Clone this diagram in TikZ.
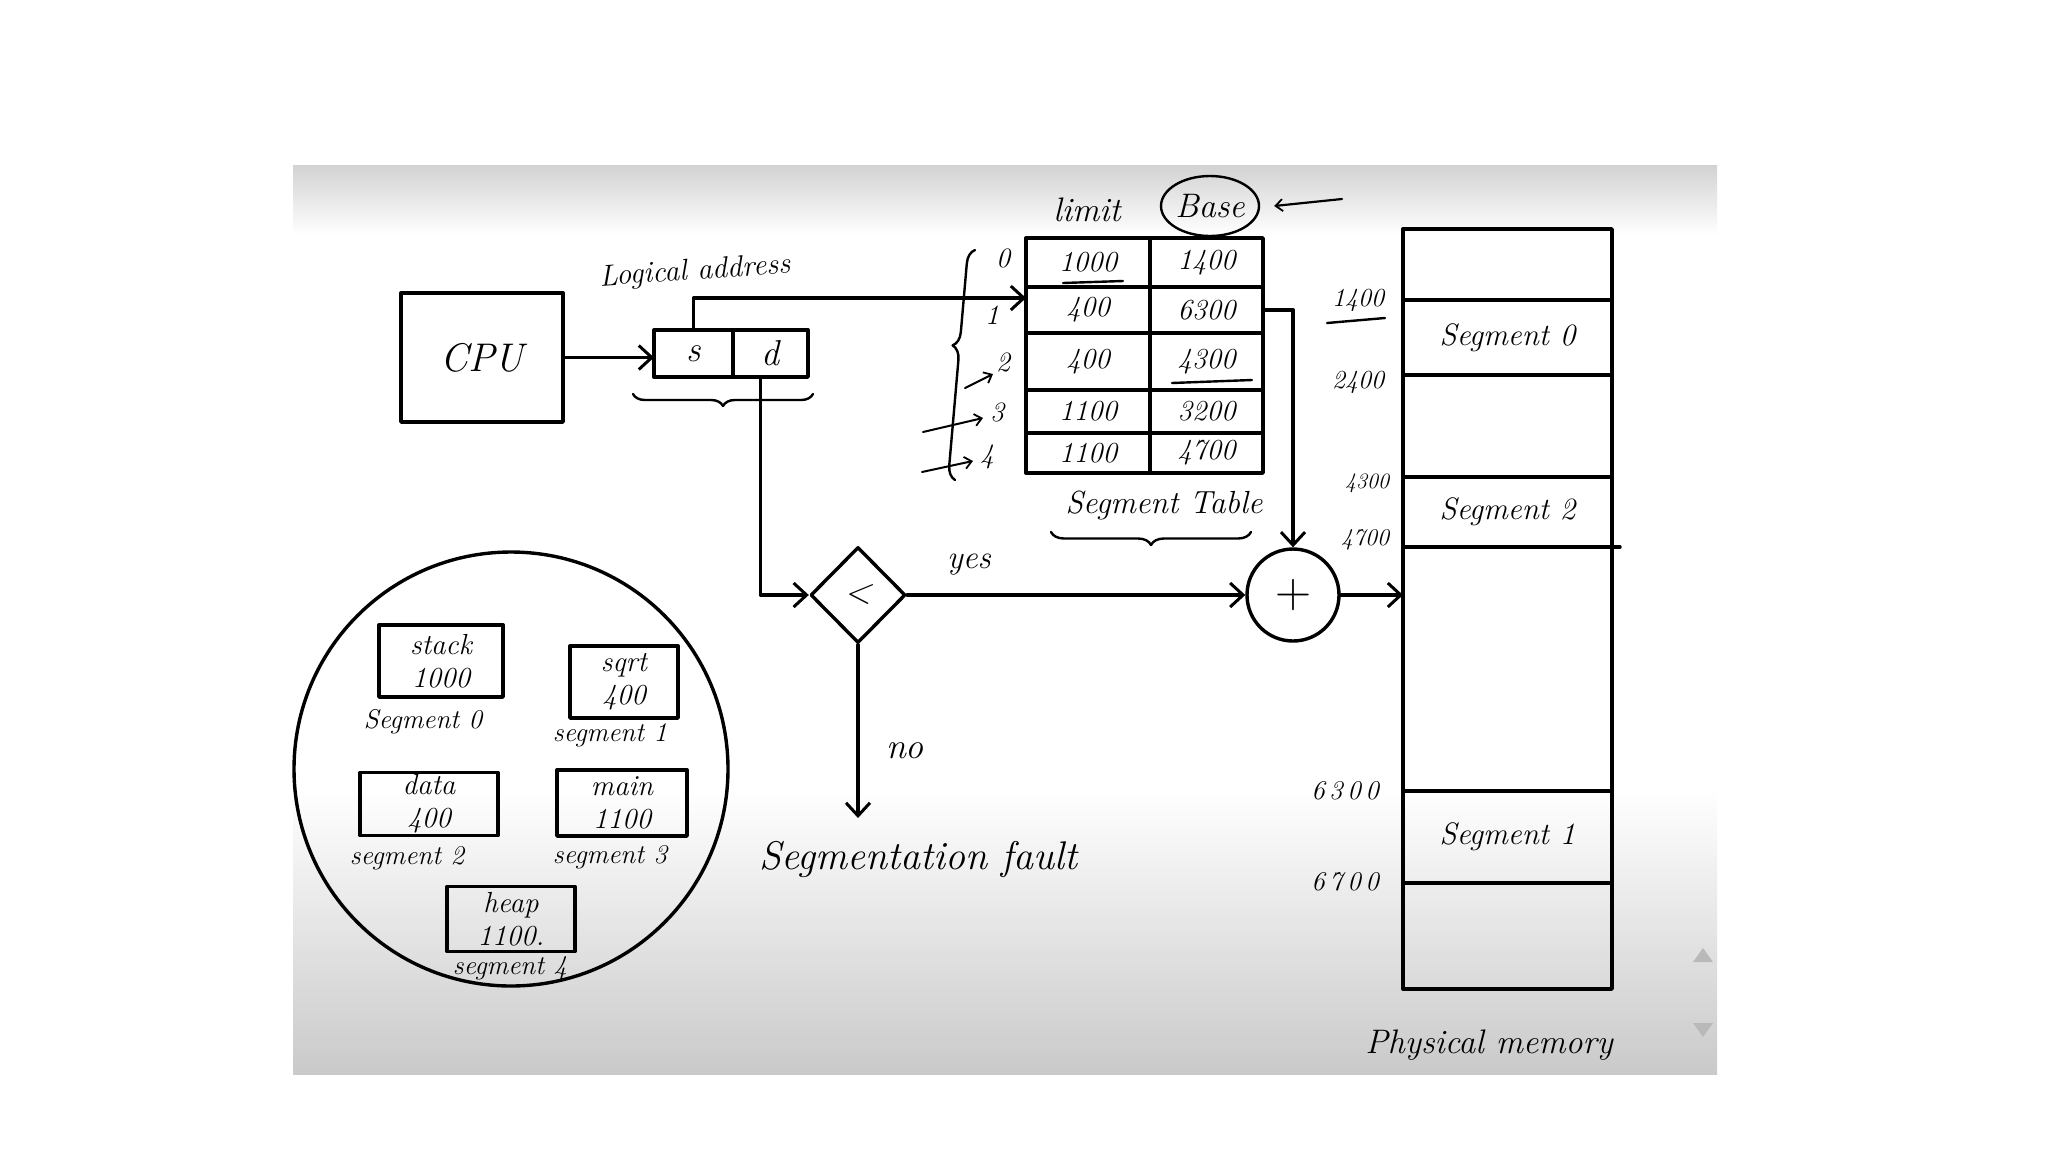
\documentclass[tikz,border=0pt]{standalone}
\usepackage{fontspec}
\usetikzlibrary{arrows.meta,shapes.geometric,decorations.pathreplacing,calc}
\newcommand\hw[1]{\fontsize{#1}{#1}\selectfont\itshape}
\begin{document}
\begin{tikzpicture}[x=1pt,y=-1pt,
  pen/.style={line width=3.4pt, line cap=round, line join=round},
  thinpen/.style={line width=2.4pt, line cap=round, line join=round},
  arr/.style={pen, -{Straight Barb[length=13pt,width=24pt,line width=3pt]}},
  smallarr/.style={line width=2pt, line cap=round, -{Straight Barb[length=7pt,width=12pt,line width=1.8pt]}},
  bx/.style={draw, pen, inner sep=0pt, outer sep=0pt},
  txt/.style={inner sep=0pt, outer sep=0pt},
  celltxt/.style={font=\hw{29}},
  lcell/.style={bx, celltxt, minimum width=124pt},
  rcell/.style={bx, celltxt, minimum width=113pt},
  mem/.style={bx, minimum width=209pt, font=\hw{31}},
  addr/.style={txt, font=\hw{26}},
  idx/.style={txt, font=\hw{28}},
  pbox/.style={bx, align=center, font=\fontsize{29}{33}\selectfont\itshape},
  plbl/.style={txt, font=\hw{27}},
  brc/.style={thinpen, decorate}
]
\useasboundingbox (0,0) rectangle (2048,1152);
% background panel
\fill[white] (0,0) rectangle (2048,1152);
\fill[white] (293,235) rectangle (1717,790);
\shade[top color=gray!35, bottom color=white] (293,165) rectangle (1717,235);
\shade[top color=white, bottom color=gray!42] (293,790) rectangle (1717,1074);
% scroll arrows
\fill[gray!55] (1693,962) -- (1713,962) -- (1703,948) -- cycle;
\fill[gray!55] (1693,1023) -- (1713,1023) -- (1703,1037) -- cycle;

% CPU and logical address
\node[bx, minimum width=162pt, minimum height=129pt, font=\hw{40}] (cpu) at (482,357.5) {CPU};
\node[bx, minimum width=79pt, minimum height=47pt, font=\hw{36}] (s) at (693.5,353.5) {s};
\node[bx, minimum width=75pt, minimum height=47pt, font=\hw{36}] (d) at (770.5,353.5) {d};
\node[txt, font=\hw{30}, rotate=4] (la) at (695,272) {Logical address};
\draw[brc, decoration={brace, mirror, amplitude=12pt}] (633,394) -- (813,394);
\draw[arr] (cpu.east) -- (cpu.east -| s.west);

% segment table
\node[lcell, minimum height=49pt] (l0) at (1088,262.5) {1000};
\node[rcell, minimum height=49pt] (b0) at (1206.5,262.5) {1400};
\node[lcell, minimum height=46pt] (l1) at (1088,310) {400};
\node[rcell, minimum height=46pt] (b1) at (1206.5,310) {6300};
\node[lcell, minimum height=57pt] (l2) at (1088,361.5) {400};
\node[rcell, minimum height=57pt] (b2) at (1206.5,361.5) {4300};
\node[lcell, minimum height=43pt] (l3) at (1088,411.5) {1100};
\node[rcell, minimum height=43pt] (b3) at (1206.5,411.5) {3200};
\node[lcell, minimum height=40pt] (l4) at (1088,453) {1100};
\node[rcell, minimum height=40pt] (b4) at (1206.5,453) {4700};
\draw[thinpen] (1063,283) -- (1123,281);
\draw[thinpen] (1172,383) -- (1252,380);
\node[txt, font=\hw{34}] (lim) at (1087,210) {limit};
\node[ellipse, draw, thinpen, inner sep=0pt, minimum width=98pt, minimum height=60pt, font=\hw{34}] (base) at (1210,206) {Base};
\coordinate (bt) at (1342,199);
\draw[smallarr, line width=2.2pt] (bt) -- ([xshift=14pt]base.east);
\node[txt, font=\hw{32}] (stl) at (1164,505) {Segment Table};
\draw[brc, decoration={brace, mirror, amplitude=13pt}] (1051,532) -- (1251,532);

% indices
\node[idx] (i0) at (1003,258) {0};
\node[idx] (i1) at (992,315) {1};
\node[idx] (i2) at (1003,362) {2};
\node[idx] (i3) at (997,412) {3};
\node[idx] (i4) at (987,457) {4};
\draw[brc, decoration={brace, mirror, amplitude=14pt, aspect=0.42}] (975,250) -- (955,480);
\coordinate (a2) at (965,388);
\coordinate (a3) at (923,432);
\coordinate (a4) at (922,472);
\draw[smallarr] (a2) -- ([xshift=-10pt,yshift=-12pt]i2.center);
\draw[smallarr] (a3) -- ([xshift=-14pt,yshift=-6pt]i3.center);
\draw[smallarr] (a4) -- ([xshift=-14pt,yshift=-4pt]i4.center);

% s -> table
\draw[arr] (s.north) |- ([yshift=12pt]l1.west);

% comparison and adder
\node[diamond, draw, pen, aspect=1, inner sep=0pt, minimum width=95pt, minimum height=96pt, font=\hw{36}] (dia) at (858,595) {<};
\node[circle, draw, pen, inner sep=0pt, minimum size=92pt, font=\fontsize{50}{50}\selectfont] (plus) at (1293,595) {+};
\draw[arr] ([xshift=-10pt]d.south) |- (dia.west);
\draw[arr] (dia.east) -- (plus.west);
\node[txt, font=\hw{33}] (yes) at (969,565) {yes};
\draw[arr] (b1.east) -| (plus.north);
\coordinate (nf) at (858,818);
\draw[arr] (dia.south) -- (nf);
\node[txt, font=\hw{36}] (no) at (905,751) {no};
\node[txt, font=\hw{40}] (sf) at (918,859) {Segmentation fault};

% physical memory
\node[mem, minimum height=71pt] (m0) at (1507.5,264.5) {};
\node[mem, minimum height=75pt] (m1) at (1507.5,337.5) {Segment 0};
\node[mem, minimum height=102pt] (m2) at (1507.5,426) {};
\node[mem, minimum height=70pt] (m3) at (1507.5,512) {Segment 2};
\node[mem, minimum height=244pt] (m4) at (1507.5,669) {};
\node[mem, minimum height=92pt] (m5) at (1507.5,837) {Segment 1};
\node[mem, minimum height=106pt] (m6) at (1507.5,936) {};
\draw[pen] (m3.south east) -- ++(8,0);
\draw[arr] (plus.east) -- (plus.east -| m4.west);
\node[addr] (p1400) at (1358,300) {1400};
\draw[thinpen] (1327,323) -- (1385,318);
\node[addr] (p2400) at (1358,382) {2400};
\node[addr, font=\hw{22}] (p4300) at (1367,483) {4300};
\node[addr, font=\hw{24}] (p4700) at (1365,540) {4700};
\node[addr, font=\hw{27}] (p6300) at (1345,791) {6\,3\,0\,0};
\node[addr, font=\hw{27}] (p6700) at (1345,882) {6\,7\,0\,0};
\node[txt, font=\hw{34}] (pm) at (1489,1045) {Physical memory};

% process (logical view)
\node[circle, draw, pen, minimum size=434pt, inner sep=0pt] (proc) at (511,769) {};
\node[pbox, minimum width=124pt, minimum height=72pt] (stk) at (441,661) {stack\\1000};
\node[plbl] (sg0) at (423,722) {Segment 0};
\node[pbox, minimum width=108pt, minimum height=72pt] (sqr) at (624,682) {sqrt\\400};
\node[plbl] (sg1) at (610,735) {segment 1};
\node[pbox, minimum width=138pt, minimum height=63pt] (dat) at (429,804) {data\\400};
\node[plbl] (sg2) at (407,858) {segment 2};
\node[pbox, minimum width=130pt, minimum height=66pt] (mai) at (622,803) {main\\1100};
\node[plbl] (sg3) at (610,857) {segment 3};
\node[pbox, minimum width=128pt, minimum height=65pt] (hep) at (511,919) {heap\\1100.};
\node[plbl] (sg4) at (510,968) {segment 4};
\end{tikzpicture}
\end{document}
